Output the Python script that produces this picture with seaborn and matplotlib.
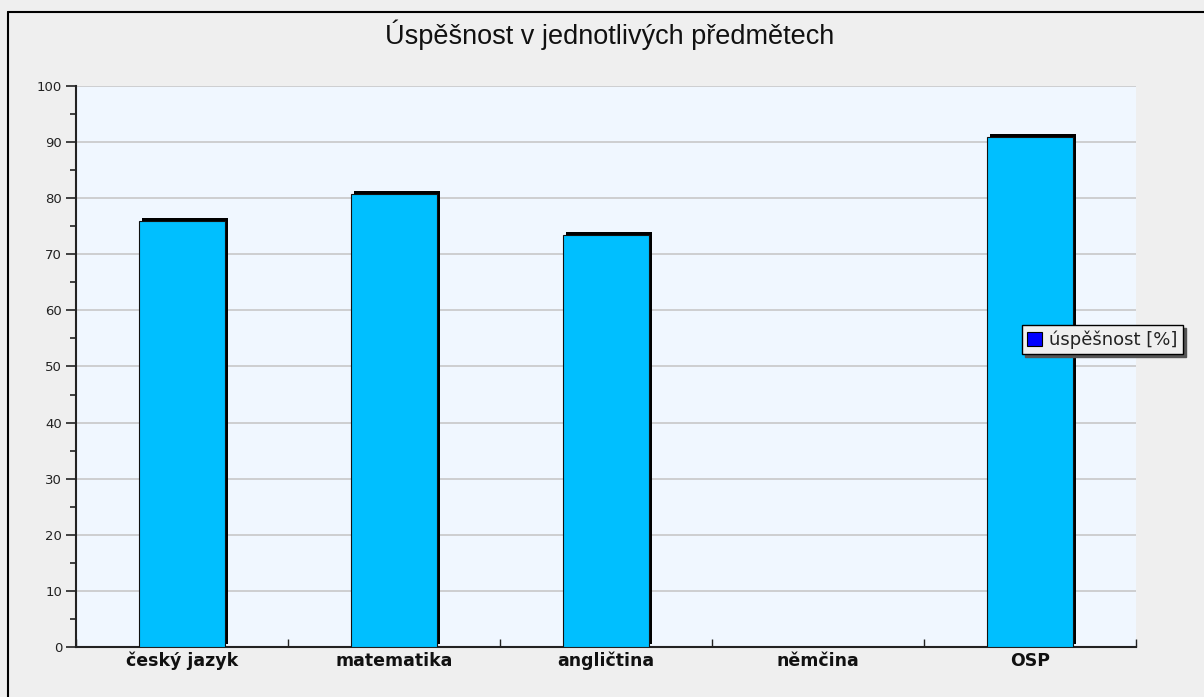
import numpy as np
import pandas as pd
import matplotlib
matplotlib.use("Agg")
import matplotlib.pyplot as plt
import matplotlib.patheffects as pe
from matplotlib.patches import Rectangle
from matplotlib.lines import Line2D
from matplotlib.ticker import MultipleLocator, FixedLocator
import seaborn as sns

categories = ["český jazyk", "matematika", "angličtina", "němčina", "OSP"]
values = [75.9, 80.8, 73.4, np.nan, 90.9]
series_name = "úspěšnost [%]"
title = "Úspěšnost v jednotlivých předmětech"
yticks = [0, 10, 20, 30, 40, 50, 60, 70, 80, 90, 100]

sns.set_theme(style="white")
plt.rcParams['font.family'] = ['DejaVu Sans']

df = pd.DataFrame({"předmět": categories, "hodnota": values})

fig = plt.figure(figsize=(12.04, 6.97), dpi=100, facecolor="#efefef")
ax = fig.add_axes([76/1204, 50/697, 1060/1204, 561/697])
ax.set_facecolor("#f0f7ff")

sns.barplot(data=df, x="předmět", y="hodnota", order=categories, color="#00bfff",
            saturation=1, width=0.405, edgecolor="#111111", linewidth=0.8, ax=ax)
for p in ax.patches:
    p.set_path_effects([pe.SimplePatchShadow(offset=(2.2, 2.0), shadow_rgbFace="black", alpha=1.0),
                        pe.Normal()])
    p.set_zorder(3)

ax.set_ylim(0, 100)
ax.set_xlim(-0.5, len(categories) - 0.5)
ax.yaxis.set_major_locator(FixedLocator(yticks))
ax.yaxis.set_minor_locator(MultipleLocator(5))
ax.grid(axis="y", which="major", color="#c8c8c8", linewidth=1.2, zorder=0)
ax.set_axisbelow(True)
ax.xaxis.set_minor_locator(FixedLocator(np.arange(-0.5, len(categories), 1.0)))
ax.tick_params(axis="x", which="major", length=0, pad=14)
ax.tick_params(axis="x", which="minor", direction="in", length=6, width=1, color="#222222", bottom=True)
ax.tick_params(axis="y", which="major", direction="out", length=7, width=1.2, color="#222222", left=True, labelsize=9.5, pad=3)
ax.tick_params(axis="y", which="minor", direction="out", length=4, width=1.2, color="#222222", left=True)
ax.set_xticks(range(len(categories)))
ax.set_xticklabels(categories, fontsize=12.5, fontweight="bold", color="#111111")
for lab in ax.get_xticklabels():
    lab.set_verticalalignment("baseline")
for lab in ax.get_yticklabels():
    lab.set_color("#222222")
ax.set_xlabel("")
ax.set_ylabel("")
for s in ["top", "right"]:
    ax.spines[s].set_visible(False)
for s in ["left", "bottom"]:
    ax.spines[s].set_color("#222222")
    ax.spines[s].set_linewidth(1.5)

fig.text(610/1204, 1 - 35/697, title, ha="center", va="center", fontsize=19.5,
         family="Liberation Sans", color="#111111")

# outer border
fig.add_artist(Line2D([8/1204, 8/1204], [0, 1 - 12/697], transform=fig.transFigure, color="black", lw=1.5))
fig.add_artist(Line2D([8/1204, 1], [1 - 12/697, 1 - 12/697], transform=fig.transFigure, color="black", lw=1.5))

handle = Rectangle((0, 0), 1, 1, facecolor="#0000ff", edgecolor="black", linewidth=0.8)
leg = ax.legend([handle], [series_name], loc="upper left",
                bbox_to_anchor=(1022/1204, 1 - 325/697), bbox_transform=fig.transFigure,
                frameon=True, fancybox=False, shadow={"color": "#555555", "alpha": 1.0},
                handlelength=0.8, handleheight=0.8, handletextpad=0.4,
                borderpad=0.3, borderaxespad=0, fontsize=13)
leg.get_frame().set_facecolor("#efefef")
leg.get_frame().set_edgecolor("black")
leg.get_frame().set_linewidth(1)
leg.get_frame().set_alpha(1)
for t in leg.get_texts():
    t.set_color("#222222")

fig.savefig("out.png", dpi=100, facecolor=fig.get_facecolor())
